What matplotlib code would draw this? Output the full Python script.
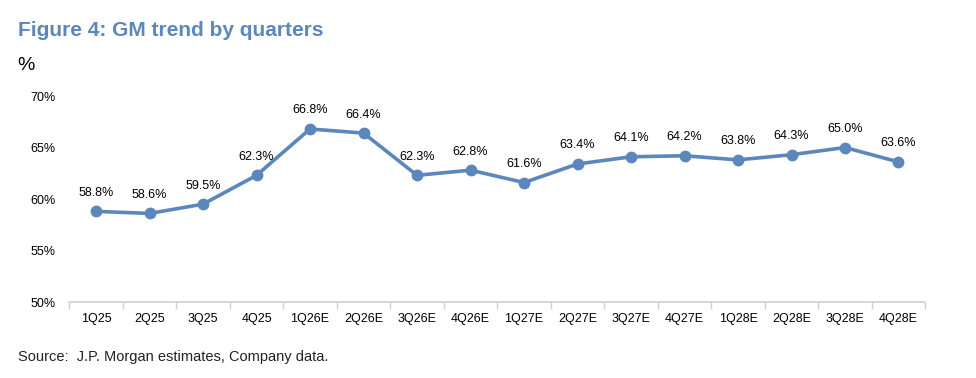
import numpy as np
import matplotlib.pyplot as plt

plt.rcParams['font.family'] = ['Liberation Sans', 'DejaVu Sans']

quarters = ['1Q25', '2Q25', '3Q25', '4Q25', '1Q26E', '2Q26E', '3Q26E', '4Q26E',
            '1Q27E', '2Q27E', '3Q27E', '4Q27E', '1Q28E', '2Q28E', '3Q28E', '4Q28E']
gm = [58.8, 58.6, 59.5, 62.3, 66.8, 66.4, 62.3, 62.8,
      61.6, 63.4, 64.1, 64.2, 63.8, 64.3, 65.0, 63.6]

blue = '#5B87BD'

fig = plt.figure(figsize=(9.76, 3.78), dpi=100)
ax = fig.add_axes([0.071, 0.201, 0.877, 0.545])

x = np.arange(len(quarters))
ax.plot(x, gm, color=blue, lw=2.6, marker='o', ms=7.5, zorder=3)
for xi, v in zip(x, gm):
    ax.annotate(f'{v:.1f}%', (xi, v), xytext=(0, 9), textcoords='offset points',
                ha='center', va='bottom', fontsize=9)

ax.set_xlim(-0.5, len(quarters) - 0.5)
ax.set_ylim(50, 70)
ax.set_yticks([50, 55, 60, 65, 70])
ax.set_yticklabels([f'{t}%' for t in [50, 55, 60, 65, 70]], fontsize=9)
ax.set_xticks(x)
ax.set_xticklabels(quarters, fontsize=9)
ax.set_xticks(np.arange(-0.5, len(quarters)), minor=True)
ax.tick_params(axis='x', which='major', length=0, pad=8)
ax.tick_params(axis='x', which='minor', length=5, color='#d0d0d0', width=1)
ax.tick_params(axis='y', length=0, pad=10)

for s in ['top', 'right', 'left']:
    ax.spines[s].set_visible(False)
ax.spines['bottom'].set_color('#d0d0d0')
ax.spines['bottom'].set_linewidth(1.2)

fig.text(0.018, 0.905, 'Figure 4: GM trend by quarters', fontsize=15, fontweight='bold',
         color=blue, ha='left', va='baseline')
fig.text(0.018, 0.815, '%', fontsize=14, ha='left', va='baseline')
fig.text(0.018, 0.045, 'Source:  J.P. Morgan estimates, Company data.', fontsize=10.5,
         ha='left', va='baseline', color='#222222')

fig.savefig('out.png', dpi=100)
